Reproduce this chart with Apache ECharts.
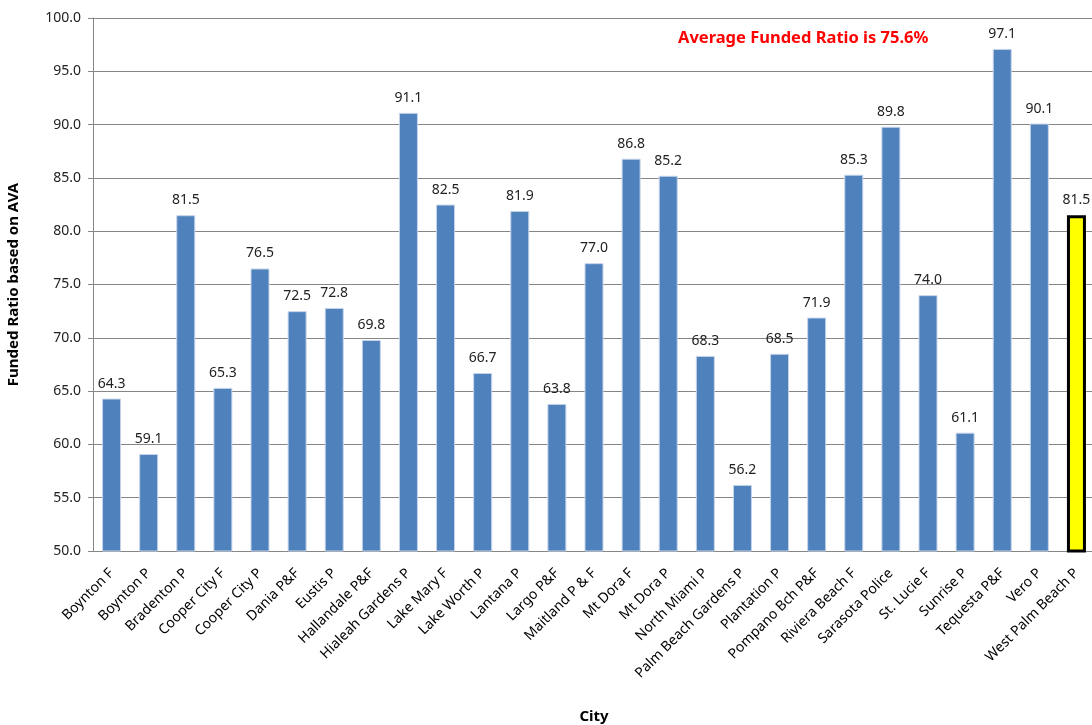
<!DOCTYPE html>
<html>
<head>
<meta charset="utf-8">
<script src="https://cdn.jsdelivr.net/npm/echarts@6/dist/echarts.min.js"></script>
<style>
  html, body { margin: 0; padding: 0; background: #fff; }
  #main { width: 1092px; height: 725px; }
</style>
</head>
<body>
<div id="main"></div>
<script>
var cities = ['Boynton F', 'Boynton P', 'Bradenton P', 'Cooper City F', 'Cooper City P', 'Dania P&F',
  'Eustis P', 'Hallandale P&F', 'Hialeah Gardens P', 'Lake Mary F', 'Lake Worth P', 'Lantana P',
  'Largo P&F', 'Maitland P & F', 'Mt Dora F', 'Mt Dora P', 'North Miami P', 'Palm Beach Gardens P',
  'Plantation P', 'Pompano Bch P&F', 'Riviera Beach F', 'Sarasota Police', 'St. Lucie F', 'Sunrise P',
  'Tequesta P&F', 'Vero P', 'West Palm Beach P'];
var fundedRatio = [64.3, 59.1, 81.5, 65.3, 76.5, 72.5, 72.8, 69.8, 91.1, 82.5, 66.7, 81.9, 63.8, 77.0,
  86.8, 85.2, 68.3, 56.2, 68.5, 71.9, 85.3, 89.8, 74.0, 61.1, 97.1, 90.1, 81.5];
var highlightCity = 'West Palm Beach P';
var averageText = 'Average Funded Ratio is 75.6%';

var font = 'Noto Sans';
var myChart = echarts.init(document.getElementById('main'));

var barData = fundedRatio.map(function (v, i) {
  if (cities[i] === highlightCity) {
    return {
      value: v,
      itemStyle: { color: '#FFFF00', borderColor: '#000', borderWidth: 3 }
    };
  }
  return v;
});

var option = {
  animation: false,
  textStyle: { fontFamily: font },
  grid: { left: 93, top: 18, width: 1002, height: 533, outerBoundsMode: 'none', containLabel: false },
  graphic: [{
    type: 'text',
    left: 678,
    top: 30,
    style: {
      text: averageText,
      fill: '#FF0000',
      font: 'bold 16.5px "Noto Sans"'
    }
  }],
  xAxis: {
    type: 'category',
    data: cities,
    name: 'City',
    nameLocation: 'middle',
    nameGap: 158,
    nameTextStyle: { fontWeight: 'bold', fontSize: 15, color: '#000', fontFamily: font },
    axisLine: { lineStyle: { color: '#868686' } },
    axisTick: { length: 5, lineStyle: { color: '#868686' } },
    axisLabel: { rotate: 45, fontSize: 14, color: '#000', interval: 0, margin: 20 }
  },
  yAxis: {
    type: 'value',
    min: 50,
    max: 100,
    interval: 5,
    name: 'Funded Ratio based on AVA',
    nameLocation: 'middle',
    nameGap: 72,
    nameTextStyle: { fontWeight: 'bold', fontSize: 15, color: '#000', fontFamily: font },
    axisLine: { show: true, lineStyle: { color: '#868686' } },
    axisTick: { show: true, length: 5, lineStyle: { color: '#868686' } },
    axisLabel: {
      fontSize: 14, color: '#222', margin: 12,
      formatter: function (v) { return v.toFixed(1); }
    },
    splitLine: { lineStyle: { color: '#868686' } }
  },
  series: [{
    type: 'bar',
    data: barData,
    barWidth: 19,
    itemStyle: { color: '#4F81BD', borderColor: '#C5D5EA', borderWidth: 1 },
    label: {
      show: true,
      position: 'top',
      distance: 8,
      fontSize: 14,
      color: '#222',
      formatter: function (p) { return p.value.toFixed(1); }
    }
  }]
};
myChart.setOption(option);
</script>
</body>
</html>
